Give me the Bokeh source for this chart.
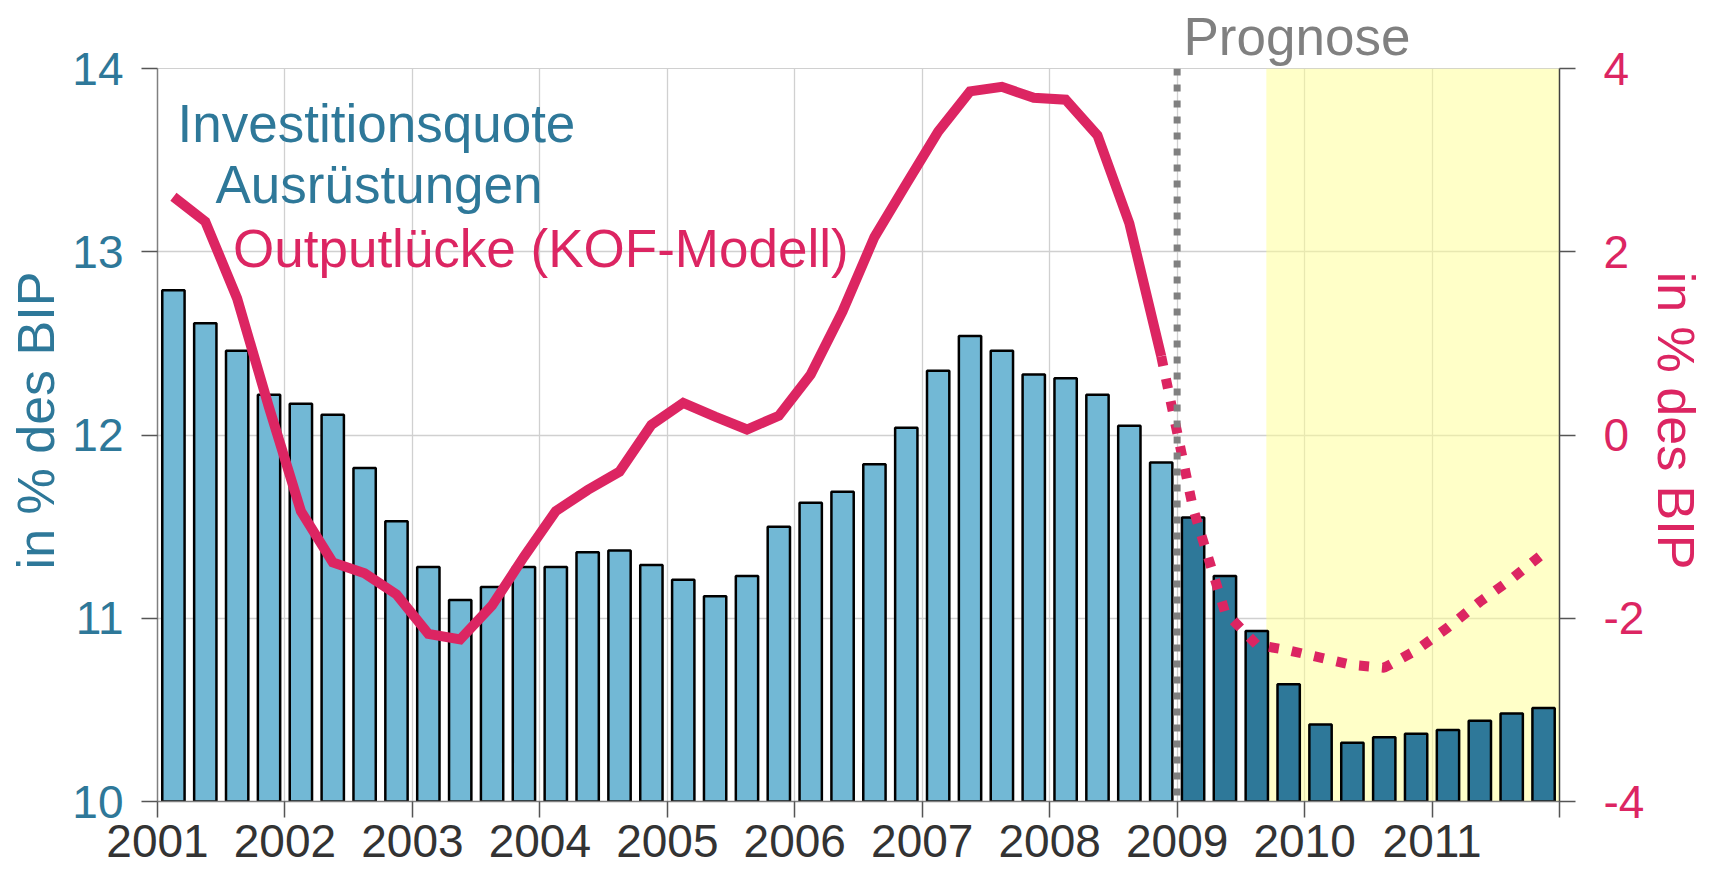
import numpy as np
from bokeh.plotting import figure
from bokeh.models import (Range1d, LinearAxis, FixedTicker, Span, BoxAnnotation,
                          Label, ColumnDataSource, Title)
from bokeh.embed import file_html
from bokeh.resources import INLINE

# ---------------- data ----------------
years = ["2001", "2002", "2003", "2004", "2005", "2006",
         "2007", "2008", "2009", "2010", "2011"]

# Investitionsquote Ausruestungen, quarterly 2001Q1..2011Q4 (in % des BIP)
investitionsquote = [
    12.79, 12.61, 12.46, 12.22,
    12.17, 12.11, 11.82, 11.53,
    11.28, 11.10, 11.17, 11.28,
    11.28, 11.36, 11.37, 11.29,
    11.21, 11.12, 11.23, 11.50,
    11.63, 11.69, 11.84, 12.04,
    12.35, 12.54, 12.46, 12.33,
    12.31, 12.22, 12.05, 11.85,
    11.55, 11.23, 10.93, 10.64,
    10.42, 10.32, 10.35, 10.37,
    10.39, 10.44, 10.48, 10.51,
]

# Outputluecke (KOF-Modell), observed 2001Q1..2008Q4
outputluecke_ist = [
    2.60, 2.33, 1.49, 0.30,
    -0.83, -1.39, -1.51, -1.74,
    -2.17, -2.23, -1.86, -1.33,
    -0.83, -0.60, -0.40, 0.11,
    0.35, 0.20, 0.06, 0.21,
    0.66, 1.35, 2.16, 2.74,
    3.31, 3.75, 3.80, 3.68,
    3.66, 3.27, 2.31, 0.86,
]
# Outputluecke forecast 2008Q4..2011Q4
outputluecke_prognose = [
    0.86,
    -0.80, -1.93, -2.29, -2.35,
    -2.43, -2.51, -2.54, -2.35,
    -2.10, -1.82, -1.57, -1.29,
]

left_ticks = [10, 11, 12, 13, 14]
right_ticks = [-4, -2, 0, 2, 4]

prognose_start = 32      # first forecast quarter index (2009Q1)
band_start = 34.8        # start of shaded forecast band (quarter units)

# ---------------- styles ----------------
TEAL = "#2E7899"
LIGHT = "#72B8D5"
CRIMSON = "#DC2562"
GRAY = "#808080"
FONT = "Liberation Sans"
NB = "\u00a0\u00a0"

n = len(investitionsquote)
centers = np.arange(n) + 0.5
bar_colors = [LIGHT if i < prognose_start else TEAL for i in range(n)]

p = figure(width=1713, height=875, output_backend="svg", toolbar_location=None,
           x_range=Range1d(0, n), y_range=Range1d(left_ticks[0], left_ticks[-1]),
           min_border_left=157, min_border_right=154,
           min_border_top=68, min_border_bottom=74)
p.outline_line_color = "#d0d0d0"
p.background_fill_color = "white"
p.border_fill_color = "white"

p.extra_y_ranges = {"r": Range1d(right_ticks[0], right_ticks[-1])}

# "Prognose" heading above the plot area
p.title = Title(text="Prognose", align="left", offset=1026, standoff=6,
                text_font=FONT, text_font_size="53px", text_font_style="normal",
                text_color=GRAY, text_line_height=1.0)

# forecast band
p.add_layout(BoxAnnotation(left=band_start, right=n, fill_color="#FFFF91",
                           fill_alpha=0.5, line_color=None, level="underlay"))

# bars
src = ColumnDataSource(dict(x=centers, top=investitionsquote, color=bar_colors))
p.vbar(x="x", top="top", bottom=left_ticks[0], width=0.7, source=src,
       fill_color="color", line_color="black", line_width=2.5)

# output gap lines
p.line(centers[:len(outputluecke_ist)], outputluecke_ist, y_range_name="r",
       line_color=CRIMSON, line_width=10, line_join="miter")
p.line(centers[len(outputluecke_ist) - 1:], outputluecke_prognose, y_range_name="r",
       line_color=CRIMSON, line_width=10, line_dash="10 13", line_cap="butt")

# forecast divider
p.add_layout(Span(location=prognose_start, dimension="height", line_color=GRAY,
                  line_width=7, line_dash="7 9"))

# grids
year_ticks = list(range(0, n + 1, 4))
p.xgrid.ticker = FixedTicker(ticks=year_ticks)
p.ygrid.ticker = FixedTicker(ticks=left_ticks)
for g in (p.xgrid, p.ygrid):
    g.grid_line_color = "#d0d0d0"
    g.grid_line_width = 1.3

# x axis
xa = p.xaxis[0]
xa.ticker = FixedTicker(ticks=year_ticks)
xa.major_label_overrides = {t: (years[i] if i < len(years) else "")
                            for i, t in enumerate(year_ticks)}
xa.major_label_text_font = FONT
xa.major_label_text_font_size = "46px"
xa.major_label_text_color = "#333333"
xa.major_label_standoff = 7
xa.major_tick_out = 16
xa.major_tick_in = 0
xa.minor_tick_line_color = None
xa.axis_line_color = GRAY
xa.axis_line_width = 1.5
xa.major_tick_line_color = "#555555"
xa.major_tick_line_width = 1.5

# left axis
ya = p.yaxis[0]
ya.ticker = FixedTicker(ticks=left_ticks)
ya.major_tick_out = 16
ya.major_tick_in = 0
ya.minor_tick_line_color = None
ya.axis_line_color = GRAY
ya.axis_line_width = 1.5
ya.major_tick_line_color = "#555555"
ya.major_tick_line_width = 1.5
ya.major_label_text_font = FONT
ya.major_label_text_font_size = "46px"
ya.major_label_text_color = TEAL
ya.major_label_standoff = 18
ya.axis_label = NB + "in % des BIP"
ya.axis_label_text_font = FONT
ya.axis_label_text_font_size = "52px"
ya.axis_label_text_font_style = "normal"
ya.axis_label_text_color = TEAL
ya.axis_label_standoff = 4

# right axis
ra = LinearAxis(y_range_name="r", ticker=FixedTicker(ticks=right_ticks))
ra.major_label_overrides = {t: str(t) for t in right_ticks}
ra.major_tick_out = 16
ra.major_tick_in = 0
ra.minor_tick_line_color = None
ra.axis_line_color = "#404040"
ra.axis_line_width = 1.5
ra.major_tick_line_color = "#555555"
ra.major_tick_line_width = 1.5
ra.major_label_text_font = FONT
ra.major_label_text_font_size = "46px"
ra.major_label_text_color = CRIMSON
ra.major_label_standoff = 28
ra.axis_label = "in % des BIP" + NB
ra.axis_label_text_font = FONT
ra.axis_label_text_font_size = "52px"
ra.axis_label_text_font_style = "normal"
ra.axis_label_text_color = CRIMSON
ra.axis_label_standoff = 0
p.add_layout(ra, "right")

# series labels inside the plot
def add_label(txt, x, y, color):
    p.add_layout(Label(x=x, y=y, text=txt, text_align="left",
                       text_baseline="alphabetic", text_font=FONT,
                       text_font_size="53px", text_color=color))

add_label("Investitionsquote", 0.63, 13.70, TEAL)
add_label("Ausrüstungen", 1.82, 13.366, TEAL)
add_label("Outputlücke (KOF-Modell)", 2.37, 13.017, CRIMSON)

open("out.html", "w").write(file_html(p, INLINE))
